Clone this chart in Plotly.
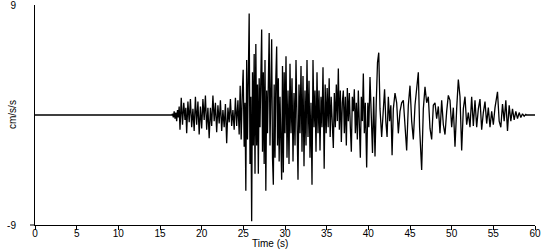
import plotly.graph_objects as go

# Time (s) of each read-off sample point
time_s = [
    0, 16.4, 16.5, 16.6, 16.7, 16.8, 16.9, 17.0, 17.1, 17.2, 17.3, 17.4,
    17.55, 17.7, 17.85, 18.0, 18.1, 18.2, 18.35, 18.5, 18.65, 18.8, 18.95, 19.1,
    19.25, 19.4, 19.55, 19.7, 19.85, 20.0, 20.15, 20.3, 20.45, 20.6, 20.75, 20.9,
    21.05, 21.2, 21.35, 21.5, 21.65, 21.8, 21.95, 22.1, 22.25, 22.4, 22.55, 22.7,
    22.85, 23.0, 23.15, 23.3, 23.45, 23.6, 23.75, 23.9, 24.05, 24.2, 24.35, 24.5,
    24.62, 24.74, 24.86, 24.98, 25.1, 25.2, 25.3, 25.4, 25.5, 25.6, 25.7, 25.8,
    25.9, 26.0, 26.1, 26.2, 26.3, 26.4, 26.5, 26.6, 26.7, 26.8, 26.9, 27.0,
    27.1, 27.2, 27.3, 27.4, 27.5, 27.6, 27.7, 27.8, 27.9, 28.0, 28.1, 28.2,
    28.3, 28.4, 28.5, 28.6, 28.7, 28.8, 28.9, 29.0, 29.1, 29.2, 29.3, 29.4,
    29.5, 29.6, 29.7, 29.8, 29.9, 30.0, 30.12, 30.24, 30.36, 30.48, 30.6, 30.72,
    30.84, 30.96, 31.08, 31.2, 31.32, 31.44, 31.56, 31.68, 31.8, 31.92, 32.04, 32.16,
    32.28, 32.4, 32.52, 32.64, 32.76, 32.88, 33.0, 33.12, 33.24, 33.36, 33.48, 33.6,
    33.72, 33.84, 33.96, 34.08, 34.2, 34.32, 34.44, 34.56, 34.7, 34.82, 34.94, 35.06,
    35.18, 35.3, 35.42, 35.54, 35.66, 35.8, 35.92, 36.04, 36.16, 36.28, 36.4, 36.52,
    36.64, 36.76, 36.88, 37.0, 37.12, 37.24, 37.36, 37.48, 37.6, 37.72, 37.84, 37.96,
    38.08, 38.2, 38.32, 38.44, 38.56, 38.68, 38.8, 38.92, 39.04, 39.16, 39.28, 39.4,
    39.52, 39.64, 39.8, 39.94, 40.06, 40.2, 40.34, 40.5, 40.64, 40.8, 40.95, 41.1,
    41.25, 41.4, 41.6, 41.8, 41.95, 42.1, 42.25, 42.4, 42.55, 42.7, 42.85, 43.0,
    43.2, 43.4, 43.6, 43.8, 44.0, 44.2, 44.4, 44.6, 44.8, 45.0, 45.2, 45.4,
    45.6, 45.8, 46.0, 46.15, 46.4, 46.6, 46.8, 47.0, 47.2, 47.4, 47.6, 47.8,
    48.0, 48.2, 48.4, 48.6, 48.8, 49.0, 49.2, 49.4, 49.6, 49.8, 50.0, 50.2,
    50.4, 50.6, 50.8, 51.0, 51.2, 51.4, 51.6, 51.8, 52.0, 52.2, 52.4, 52.6,
    52.8, 53.0, 53.2, 53.4, 53.6, 53.8, 54.0, 54.2, 54.4, 54.6, 54.8, 55.0,
    55.2, 55.5, 55.7, 55.9, 56.1, 56.3, 56.5, 56.7, 56.9, 57.1, 57.3, 57.5,
    57.7, 57.9, 58.1, 58.3, 58.5, 58.7, 58.9, 59.0, 60.0,
]

# Acceleration (cm/s/s)
accel = [
    0, 0, 0.1, -0.2, 0.3, -0.3, 0.2, -0.5, 0.4, -0.2, 0.7, -1.2,
    1.4, -0.8, 1.0, -0.4, 0.6, -1.5, 1.1, -0.6, 1.3, -1.0, 0.5, -1.3,
    1.5, -0.8, 1.1, -1.6, 0.7, -1.1, 1.3, -0.4, 1.6, -1.2, 0.6, -1.9,
    0.6, -0.9, 1.6, -0.5, 1.0, -1.4, 0.8, -0.7, 1.2, -1.3, 0.4, -1.0,
    0.9, -2.3, 0.6, -0.6, 1.3, -0.9, 0.4, -1.2, 1.4, -0.9, 1.2, -1.6,
    2.4, -2.0, 1.5, 3.7, -2.6, 1.0, -6.2, 4.5, -2.0, 3.0, 8.3, -4.0,
    1.5, -8.7, 3.5, -2.5, 5.0, -4.8, 5.8, -2.5, 2.5, -4.8, 3.0, -1.0,
    4.5, 7.0, -3.0, 3.5, -4.0, 4.5, -6.2, 2.0, -1.5, 4.0, 6.7, -2.5,
    2.0, 6.2, -3.5, -5.7, 2.5, -3.5, 3.0, 5.6, -2.5, 3.0, -3.8, 1.5,
    -2.0, -5.3, 4.0, -4.7, 3.5, -1.5, 4.8, -3.5, 2.0, -4.0, 4.2, -1.5,
    3.0, -3.8, 1.8, -2.5, 4.5, -1.0, -5.3, 2.5, -1.5, 4.0, -3.0, 3.2,
    -4.2, 2.0, -2.5, 4.5, -1.8, 2.8, -3.5, 1.0, -5.7, 4.5, -1.0, 2.0,
    -3.0, 3.5, -1.5, 2.0, -2.9, 1.5, -1.0, 3.9, -4.4, 2.5, -1.5, 2.2,
    -1.0, 3.0, -1.8, 1.5, -0.5, -2.7, 1.8, -1.0, 2.5, -0.5, 3.8, -1.2,
    2.0, -2.2, 1.0, 2.0, -1.5, 1.5, -2.5, 2.2, -0.5, 1.8, -1.0, -3.0,
    1.5, 0.3, 2.1, -1.5, 1.0, -2.0, 2.0, -0.8, -3.5, 1.5, -0.5, 3.4,
    -1.5, 1.0, -4.3, 1.0, -1.0, 3.1, -0.5, -3.1, 1.5, -3.4, 1.0, 4.3,
    5.1, 0.5, -1.8, 1.0, 2.1, -0.5, -1.8, 1.5, -0.5, 0.8, -3.3, 0.5,
    1.8, 1.0, -1.5, 0.3, 1.0, 1.2, -0.5, -2.9, 0.8, 2.4, -0.5, -2.0,
    0.8, 2.0, 3.5, -1.0, -4.5, 0.5, 2.3, 1.0, 1.5, -1.1, -2.0, 0.8,
    1.0, -0.3, 0.7, -1.5, 1.2, -0.8, -1.6, 0.3, 1.6, 1.2, -1.0, 0.6,
    -2.6, 0.5, 2.9, 1.5, -2.9, 0.5, 1.5, -0.8, 0.2, -1.0, 1.5, -0.9,
    1.2, -1.0, 0.5, 1.3, -1.2, 0.2, 1.1, -0.7, 0.6, -1.0, 0.3, -0.8,
    0.6, 1.9, -0.5, -1.0, 0.9, -0.5, 1.2, -1.3, 0.8, -0.5, 0.5, -0.4,
    0.3, -0.3, 0.2, -0.2, 0.1, -0.1, 0.05, 0, 0,
]

x_ticks = [0, 5, 10, 15, 20, 25, 30, 35, 40, 45, 50, 55, 60]
y_ticks = [-9, 9]

FONT = "Liberation Sans, Arial, sans-serif"

fig = go.Figure()
fig.add_trace(go.Scatter(
    x=time_s, y=accel, mode="lines",
    line=dict(color="black", width=1.3),
    hoverinfo="skip", showlegend=False,
))

fig.update_layout(
    width=550, height=250,
    margin=dict(l=35, r=15, t=5, b=25, autoexpand=False),
    paper_bgcolor="white", plot_bgcolor="white",
    font=dict(family=FONT, size=10, color="black"),
    showlegend=False,
    xaxis=dict(
        range=[0, 60], tickvals=x_ticks, ticktext=[str(v) for v in x_ticks],
        showgrid=False, zeroline=False, showline=True, linecolor="black",
        linewidth=1, ticks="outside", ticklen=4, tickcolor="black",
        tickfont=dict(size=10), fixedrange=True, ticklabeloverflow="allow",
        automargin=False, ticklabelstandoff=-5,
    ),
    yaxis=dict(
        range=[-9, 9], tickvals=y_ticks, ticktext=[str(v) for v in y_ticks],
        showgrid=False, zeroline=False, showline=True, linecolor="black",
        linewidth=1, ticks="", ticklabelstandoff=16,
        tickfont=dict(size=10), fixedrange=True, ticklabeloverflow="allow",
        automargin=False,
    ),
    annotations=[
        dict(text="Time (s)", xref="paper", yref="paper", x=0.47, y=-0.1136,
             xanchor="center", yanchor="bottom", showarrow=False,
             borderpad=0, font=dict(size=10)),
        dict(text="cm/s/s", xref="paper", yref="paper", x=-0.046, y=0.5,
             xanchor="center", yanchor="middle", textangle=-90,
             showarrow=False, font=dict(size=10)),
    ],
    shapes=[
        dict(type="line", xref="paper", yref="paper", x0=-0.01, x1=0,
             y0=0, y1=0, line=dict(color="black", width=1)),
    ],
)

fig.write_html("out.html")
